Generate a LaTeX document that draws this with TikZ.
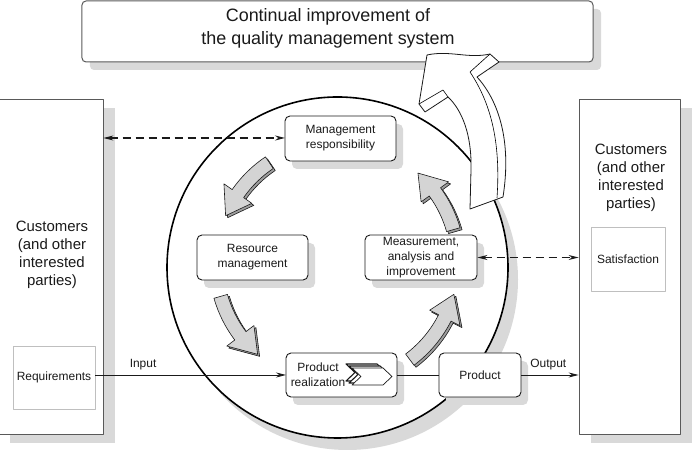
\documentclass[tikz,border=0pt]{standalone}
\usepackage{fontspec}
\setmainfont{Liberation Sans}
\usetikzlibrary{arrows.meta,positioning,shadows}
\definecolor{FigureInk}{HTML}{1A1A1A}
\definecolor{ShadowGray}{gray}{0.85}
\definecolor{FrameGray}{gray}{0.35}
\definecolor{LightFrame}{gray}{0.75}
\definecolor{ArrowFace}{gray}{0.83}
\definecolor{ArrowSide}{gray}{0.62}
\newcommand{\CycleArrow}[2]{%
  \foreach \dx/\dy/\tone in {2/-2/ArrowSide,0/0/ArrowFace}
    \filldraw[fill=\tone,draw=FigureInk,line width=0.6bp,shift={(cyclehub)},shift={(\dx,\dy)}]
      (#1:128) arc[start angle=#1,end angle=#2-12,radius=128] -- (#2-12:138) -- (#2:121)
      -- (#2-12:104) -- (#2-12:114) arc[start angle=#2-12,end angle=#1,radius=114] -- cycle;
}
\tikzset{
  figure/.style={x=1bp,y=1bp,text=FigureInk,line join=round,font=\fontsize{12}{15}\selectfont,
    >={Stealth[length=10bp,width=5bp]}},
  goalbox/.style={draw=FrameGray,line width=1bp,rounded corners=4bp,fill=white,
    general shadow={fill=ShadowGray,shadow xshift=8bp,shadow yshift=-8bp}},
  party/.style={draw=FrameGray,line width=0.8bp,fill=white,
    general shadow={fill=ShadowGray,shadow xshift=12bp,shadow yshift=-9bp}},
  partytext/.style={align=center,font=\fontsize{15}{18}\selectfont},
  need/.style={draw=LightFrame,line width=0.8bp,fill=white,inner sep=1bp},
  stage/.style={draw=FigureInk,line width=0.9bp,rounded corners=5bp,fill=white,align=center,
    inner sep=1.5bp,general shadow={fill=ShadowGray,shadow xshift=7bp,shadow yshift=-8bp}},
  dashlink/.style={<->,draw=FigureInk,line width=1.1bp,dash pattern=on 8bp off 5bp},
  flow/.style={draw=FigureInk,line width=0.9bp},
}
\begin{document}
\begin{tikzpicture}[figure]
  \useasboundingbox (0,0) rectangle (696,470);

  \node[goalbox,minimum width=511bp,minimum height=61bp] (goal) at (337.5,438.5) {};
  \node[align=center,font=\fontsize{18}{23}\selectfont] (goaltext) at (328,442)
    {Continual improvement of\\the quality management system};

  \node[party,minimum width=105bp,minimum height=335bp] (leftparty) at (50.5,203.5) {};
  \node[party,minimum width=101bp,minimum height=335bp] (rightparty) at (629.5,203.5) {};
  \node[partytext] (lefttext) at (52,215) {Customers\\(and other\\interested\\parties)};
  \node[partytext] (righttext) at (631,292) {Customers\\(and other\\interested\\parties)};
  \node[need,minimum width=82bp,minimum height=63bp] (req) at (54,92.5) {Requirements};
  \node[need,minimum width=74bp,minimum height=64bp] (sat) at (628,211) {Satisfaction};

  % the process loop
  \coordinate (hub) at (337.5,202.5);
  \fill[ShadowGray] ([shift={(10,-12)}]hub) circle[radius=170.5];
  \draw[line width=1.6bp,fill=white] (hub) circle[radius=170.5];

  \draw[dashlink] (leftparty.east |- 0,332) -- (285,332);
  \draw[flow,->] (req.east |- 0,95) -- node[above=1bp,pos=0.25] (inputlabel) {Input} (286,95);

  \node[stage,minimum width=111bp,minimum height=45bp] (mgmt) at (340.5,331.5) {Management\\responsibility};
  \node[stage,minimum width=111bp,minimum height=45bp] (res) at (252.5,212.5) {Resource\\management};
  \node[stage,minimum width=112bp,minimum height=45bp] (meas) at (421,212.5) {Measurement,\\analysis and\\improvement};
  \node[stage,minimum width=111bp,minimum height=44bp] (real) at (341.5,95) {};
  \node[align=center] (realtext) at (318,95) {Product\\realization};
  \node[stage,minimum width=82bp,minimum height=44bp] (prod) at (480,95) {Product};

  \draw[dashlink] (meas.east) -- (meas.east -| rightparty.west);
  \draw[flow] (real.east) -- (prod.west);
  \draw[flow,->] (prod.east) -- node[above=1bp,pos=0.47] (outputlabel) {Output} (prod.east -| rightparty.west);

  \coordinate (chev) at (352,93.5);
  \foreach \dx/\dy/\wd in {-6/4/1.1,-3/2/1.1,0/0/0.7}
    \filldraw[fill=white,draw=FigureInk,line width=\wd bp,shift={(chev)},shift={(\dx,\dy)}]
      (0,8.5) -- (31,8.5) -- (40,0) -- (31,-8.5) -- (0,-8.5) -- (9,0) -- cycle;

  \coordinate (cyclehub) at (337,207);
  \CycleArrow{124}{157}
  \CycleArrow{196}{229}
  \CycleArrow{307}{345}
  \CycleArrow{16}{48}

  % arrow up to continual improvement
  \filldraw[fill=white,draw=FigureInk,line width=0.8bp]
    (470,261) -- (471,300) .. controls (472,335) and (462,360) .. (448,373)
    -- (425,358) -- (419,366) -- (427,415) .. controls (450,420) and (468,411) .. (490,416)
    -- (499,408) -- (477,393) .. controls (498,370) and (512,330) .. (503,273) -- cycle;
  \draw[line width=0.6bp] (490,416) -- (470,398) .. controls (490,368) and (501,330) .. (497,272);
  \draw[line width=0.6bp] (419,366) -- (443,380) -- (448,373);
\end{tikzpicture}
\end{document}
